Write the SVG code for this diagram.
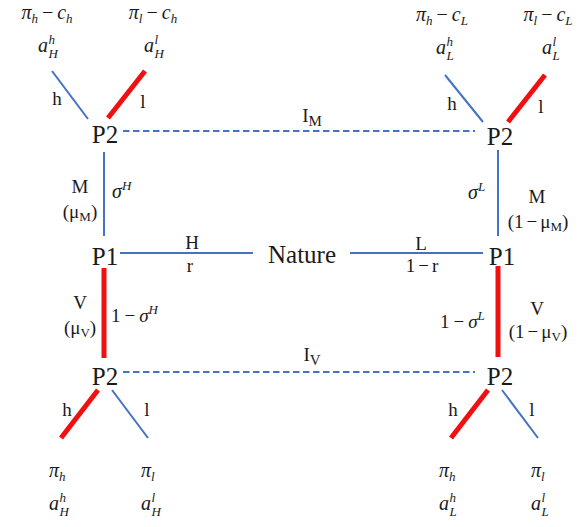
<svg xmlns="http://www.w3.org/2000/svg" width="587" height="527" viewBox="0 0 587 527">
<style>
text{font-family:"Liberation Serif","DejaVu Serif",serif;fill:#1a1a1a}
.n{font-size:25px;text-anchor:middle}
.e{font-size:19px;text-anchor:middle}
.es{font-size:19px;text-anchor:start}
.m{font-size:20px;font-style:italic}
.mc{font-size:20px;font-style:italic;text-anchor:middle}
.s{font-size:13px}
.si{font-size:15px}
.b{stroke:#4472C4;stroke-width:2;fill:none}
.r{stroke:#F01010;stroke-width:5;fill:none}
.d{stroke:#4472C4;stroke-width:2;stroke-dasharray:6.5 3.5;fill:none}
</style>
<g id="connectors">
<line class="b" x1="52" y1="71" x2="88" y2="119"/>
<line class="r" x1="145" y1="71" x2="108" y2="118"/>
<line class="b" x1="445" y1="75" x2="483" y2="122"/>
<line class="r" x1="545" y1="75" x2="508" y2="122"/>
<line class="d" x1="123" y1="131" x2="475" y2="131"/>
<line class="b" x1="104" y1="152" x2="104" y2="236"/>
<line class="b" x1="498" y1="150" x2="498" y2="236"/>
<line class="b" x1="120" y1="253" x2="253" y2="253"/>
<line class="b" x1="350" y1="253" x2="483" y2="253"/>
<line class="r" x1="104" y1="268" x2="104" y2="358"/>
<line class="r" x1="498" y1="266" x2="498" y2="357"/>
<line class="d" x1="123" y1="372" x2="475" y2="372"/>
<line class="r" x1="98" y1="390" x2="61" y2="438"/>
<line class="b" x1="112" y1="390" x2="148" y2="438"/>
<line class="r" x1="488" y1="390" x2="451" y2="438"/>
<line class="b" x1="502" y1="390" x2="538" y2="438"/>
<text class="e" x="57" y="105">h</text>
<text class="e" x="143" y="108">l</text>
<text class="e" x="452" y="110">h</text>
<text class="e" x="541" y="113">l</text>
<text class="e" x="312" y="122">I<tspan class="si" dy="4">M</tspan></text>
<text class="e" x="80" y="193">M</text>
<text class="e" x="80" y="218">(μ<tspan class="s" dy="3">M</tspan><tspan dy="-3">)</tspan></text>
<text class="m" x="112" y="198">σ<tspan class="s" dy="-8">H</tspan></text>
<text class="e" x="192" y="249">H</text>
<text class="e" x="190" y="272">r</text>
<text class="e" x="421" y="250">L</text>
<text class="e" x="422" y="272">1<tspan dx="3">−</tspan><tspan dx="3">r</tspan></text>
<text class="m" x="468" y="199">σ<tspan class="s" dy="-8">L</tspan></text>
<text class="e" x="537" y="203">M</text>
<text class="e" x="538" y="228">(1<tspan dx="3">−</tspan><tspan dx="3">μ</tspan><tspan class="s" dy="3">M</tspan><tspan dy="-3">)</tspan></text>
<text class="e" x="80" y="309">V</text>
<text class="e" x="80" y="334">(μ<tspan class="s" dy="3">V</tspan><tspan dy="-3">)</tspan></text>
<text class="es" x="111" y="322">1<tspan dx="4">−</tspan><tspan dx="4" font-style="italic">σ</tspan><tspan class="s" font-style="italic" dy="-8">H</tspan></text>
<text class="e" x="537" y="315">V</text>
<text class="e" x="538" y="338">(1<tspan dx="3">−</tspan><tspan dx="3">μ</tspan><tspan class="s" dy="3">V</tspan><tspan dy="-3">)</tspan></text>
<text class="es" x="440" y="328">1<tspan dx="4">−</tspan><tspan dx="4" font-style="italic">σ</tspan><tspan class="s" font-style="italic" dy="-8">L</tspan></text>
<text class="e" x="312" y="361">I<tspan class="si" dy="4">V</tspan></text>
<text class="e" x="67" y="416">h</text>
<text class="e" x="147" y="416">l</text>
<text class="e" x="453" y="416">h</text>
<text class="e" x="532" y="416">l</text>
</g>
<g id="p2-HM"><text class="n" x="105" y="143">P2</text></g>
<g id="p2-LM"><text class="n" x="500" y="145">P2</text></g>
<g id="p1-H"><text class="n" x="105" y="265">P1</text></g>
<g id="p1-L"><text class="n" x="502" y="265">P1</text></g>
<g id="nature"><text class="n" x="302" y="263">Nature</text></g>
<g id="p2-HV"><text class="n" x="105" y="385">P2</text></g>
<g id="p2-LV"><text class="n" x="500" y="385">P2</text></g>
<g id="t-HMh">
<text class="mc" x="47" y="19">π<tspan class="s" dy="4">h</tspan><tspan dy="-4" dx="4" font-style="normal">−</tspan><tspan dx="4">c</tspan><tspan class="s" dy="4">h</tspan></text>
<text class="m" x="38" y="52">a<tspan class="s" x="48.5" y="44">h</tspan><tspan class="s" x="48.5" y="58">H</tspan></text>
</g>
<g id="t-HMl">
<text class="mc" x="153" y="19">π<tspan class="s" dy="4">l</tspan><tspan dy="-4" dx="4" font-style="normal">−</tspan><tspan dx="4">c</tspan><tspan class="s" dy="4">h</tspan></text>
<text class="m" x="144" y="52">a<tspan class="s" x="154.5" y="44">l</tspan><tspan class="s" x="154.5" y="58">H</tspan></text>
</g>
<g id="t-LMh">
<text class="mc" x="442" y="21">π<tspan class="s" dy="4">h</tspan><tspan dy="-4" dx="4" font-style="normal">−</tspan><tspan dx="4">c</tspan><tspan class="s" dy="4">L</tspan></text>
<text class="m" x="436" y="54">a<tspan class="s" x="446.5" y="46">h</tspan><tspan class="s" x="446.5" y="60">L</tspan></text>
</g>
<g id="t-LMl">
<text class="mc" x="548" y="21">π<tspan class="s" dy="4">l</tspan><tspan dy="-4" dx="4" font-style="normal">−</tspan><tspan dx="4">c</tspan><tspan class="s" dy="4">L</tspan></text>
<text class="m" x="542" y="54">a<tspan class="s" x="552.5" y="46">l</tspan><tspan class="s" x="552.5" y="60">L</tspan></text>
</g>
<g id="t-HVh">
<text class="m" x="49" y="477">π<tspan class="s" dy="4">h</tspan></text>
<text class="m" x="49" y="510">a<tspan class="s" x="59.5" y="502">h</tspan><tspan class="s" x="59.5" y="516">H</tspan></text>
</g>
<g id="t-HVl">
<text class="m" x="141" y="477">π<tspan class="s" dy="4">l</tspan></text>
<text class="m" x="141" y="510">a<tspan class="s" x="151.5" y="502">l</tspan><tspan class="s" x="151.5" y="516">H</tspan></text>
</g>
<g id="t-LVh">
<text class="m" x="439" y="477">π<tspan class="s" dy="4">h</tspan></text>
<text class="m" x="439" y="510">a<tspan class="s" x="449.5" y="502">h</tspan><tspan class="s" x="449.5" y="516">L</tspan></text>
</g>
<g id="t-LVl">
<text class="m" x="531" y="477">π<tspan class="s" dy="4">l</tspan></text>
<text class="m" x="531" y="510">a<tspan class="s" x="541.5" y="502">l</tspan><tspan class="s" x="541.5" y="516">L</tspan></text>
</g>
</svg>
